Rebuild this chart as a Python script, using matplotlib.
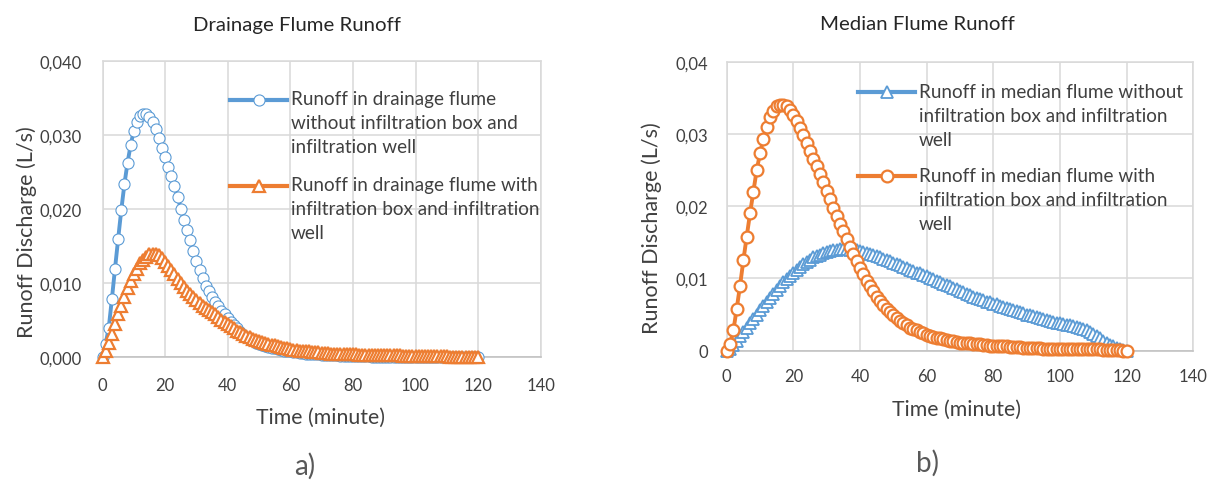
import matplotlib.pyplot as plt
from matplotlib.lines import Line2D

plt.rcParams['font.family'] = ['Lato', 'DejaVu Sans']

# time in minutes, one reading per minute
minutes = list(range(0, 121))

# a) drainage flume, runoff discharge (L/s)
drain_without = [
    0.0000, 0.0018, 0.0040, 0.0079, 0.0120, 0.0160, 0.0199, 0.0234, 0.0263, 0.0287,
    0.0306, 0.0318, 0.0326, 0.0329, 0.0329, 0.0325, 0.0318, 0.0309, 0.0296, 0.0283,
    0.0271, 0.0257, 0.0245, 0.0232, 0.0217, 0.0201, 0.0186, 0.0172, 0.0158, 0.0144,
    0.0130, 0.0118, 0.0107, 0.0097, 0.0089, 0.0082, 0.0075, 0.0069, 0.0063, 0.0058,
    0.0053, 0.0048, 0.0043, 0.0039, 0.0034, 0.0030, 0.0027, 0.0024, 0.0022, 0.0020,
    0.0018, 0.0016, 0.0015, 0.0014, 0.0013, 0.0012, 0.0011, 0.0010, 0.0009, 0.0008,
    0.0008, 0.0007, 0.0007, 0.0006, 0.0006, 0.0005, 0.0005, 0.0004, 0.0004, 0.0004,
    0.0003, 0.0003, 0.0003, 0.0003, 0.0003, 0.0003, 0.0002, 0.0002, 0.0002, 0.0002,
    0.0002, 0.0002, 0.0002, 0.0002, 0.0002, 0.0002, 0.0001, 0.0001, 0.0001, 0.0001,
    0.0001, 0.0001, 0.0001, 0.0001, 0.0001, 0.0001, 0.0001, 0.0001, 0.0001, 0.0001,
    0.0001, 0.0001, 0.0001, 0.0001, 0.0001, 0.0001, 0.0001, 0.0001, 0.0001, 0.0001,
    0.0001, 0.0000, 0.0000, 0.0000, 0.0000, 0.0000, 0.0000, 0.0000, 0.0000, 0.0000,
    0.0000,
]
drain_with = [
    0.0000, 0.0009, 0.0020, 0.0032, 0.0045, 0.0058, 0.0070, 0.0082, 0.0093, 0.0103,
    0.0112, 0.0120, 0.0127, 0.0132, 0.0136, 0.0139, 0.0140, 0.0140, 0.0138, 0.0134,
    0.0129, 0.0124, 0.0118, 0.0112, 0.0106, 0.0100, 0.0095, 0.0090, 0.0086, 0.0082,
    0.0078, 0.0074, 0.0070, 0.0067, 0.0064, 0.0061, 0.0058, 0.0055, 0.0051, 0.0048,
    0.0045, 0.0042, 0.0039, 0.0036, 0.0034, 0.0031, 0.0029, 0.0027, 0.0025, 0.0023,
    0.0022, 0.0021, 0.0019, 0.0018, 0.0017, 0.0016, 0.0015, 0.0014, 0.0013, 0.0012,
    0.0011, 0.0010, 0.0010, 0.0009, 0.0009, 0.0008, 0.0008, 0.0007, 0.0007, 0.0007,
    0.0006, 0.0006, 0.0006, 0.0005, 0.0005, 0.0005, 0.0005, 0.0004, 0.0004, 0.0004,
    0.0004, 0.0004, 0.0003, 0.0003, 0.0003, 0.0003, 0.0003, 0.0003, 0.0003, 0.0003,
    0.0003, 0.0003, 0.0003, 0.0003, 0.0003, 0.0003, 0.0002, 0.0002, 0.0002, 0.0002,
    0.0002, 0.0002, 0.0002, 0.0002, 0.0002, 0.0002, 0.0002, 0.0002, 0.0002, 0.0002,
    0.0002, 0.0001, 0.0001, 0.0001, 0.0001, 0.0001, 0.0001, 0.0001, 0.0001, 0.0001,
    0.0000,
]

# b) median flume, runoff discharge (L/s)
median_without = [
    0.0000, 0.0003, 0.0008, 0.0014, 0.0020, 0.0026, 0.0032, 0.0038, 0.0044, 0.0050,
    0.0056, 0.0062, 0.0067, 0.0073, 0.0079, 0.0084, 0.0090, 0.0095, 0.0099, 0.0104,
    0.0108, 0.0112, 0.0116, 0.0120, 0.0123, 0.0126, 0.0129, 0.0131, 0.0133, 0.0135,
    0.0137, 0.0138, 0.0139, 0.0140, 0.0141, 0.0141, 0.0141, 0.0140, 0.0140, 0.0139,
    0.0138, 0.0137, 0.0135, 0.0134, 0.0132, 0.0131, 0.0129, 0.0127, 0.0125, 0.0124,
    0.0122, 0.0120, 0.0118, 0.0116, 0.0114, 0.0112, 0.0110, 0.0108, 0.0107, 0.0105,
    0.0103, 0.0101, 0.0099, 0.0097, 0.0095, 0.0093, 0.0091, 0.0089, 0.0087, 0.0085,
    0.0083, 0.0081, 0.0079, 0.0077, 0.0075, 0.0073, 0.0071, 0.0070, 0.0068, 0.0067,
    0.0065, 0.0064, 0.0062, 0.0061, 0.0059, 0.0058, 0.0056, 0.0055, 0.0053, 0.0052,
    0.0050, 0.0049, 0.0048, 0.0046, 0.0045, 0.0044, 0.0042, 0.0041, 0.0040, 0.0039,
    0.0038, 0.0037, 0.0036, 0.0035, 0.0034, 0.0033, 0.0032, 0.0030, 0.0028, 0.0026,
    0.0023, 0.0020, 0.0017, 0.0014, 0.0011, 0.0008, 0.0006, 0.0004, 0.0002, 0.0001,
    0.0000,
]
median_with = [
    0.0000, 0.0009, 0.0028, 0.0058, 0.0090, 0.0125, 0.0158, 0.0190, 0.0220, 0.0250,
    0.0273, 0.0293, 0.0310, 0.0323, 0.0332, 0.0338, 0.0340, 0.0340, 0.0338, 0.0333,
    0.0326, 0.0318, 0.0308, 0.0298, 0.0287, 0.0277, 0.0266, 0.0256, 0.0244, 0.0233,
    0.0221, 0.0210, 0.0198, 0.0187, 0.0176, 0.0165, 0.0154, 0.0144, 0.0134, 0.0124,
    0.0115, 0.0106, 0.0097, 0.0090, 0.0082, 0.0075, 0.0069, 0.0063, 0.0058, 0.0053,
    0.0049, 0.0045, 0.0041, 0.0038, 0.0035, 0.0032, 0.0030, 0.0028, 0.0026, 0.0024,
    0.0022, 0.0020, 0.0019, 0.0018, 0.0017, 0.0016, 0.0015, 0.0014, 0.0013, 0.0012,
    0.0011, 0.0011, 0.0010, 0.0010, 0.0009, 0.0009, 0.0009, 0.0008, 0.0008, 0.0007,
    0.0007, 0.0007, 0.0006, 0.0006, 0.0006, 0.0005, 0.0005, 0.0005, 0.0005, 0.0004,
    0.0004, 0.0004, 0.0004, 0.0004, 0.0004, 0.0003, 0.0003, 0.0003, 0.0003, 0.0003,
    0.0003, 0.0003, 0.0003, 0.0003, 0.0003, 0.0002, 0.0002, 0.0002, 0.0002, 0.0002,
    0.0002, 0.0002, 0.0002, 0.0001, 0.0001, 0.0001, 0.0001, 0.0001, 0.0001, 0.0000,
    0.0000,
]

xticks = [0, 20, 40, 60, 80, 100, 120, 140]
yticks = [0, 0.01, 0.02, 0.03, 0.04]
yticklabels_a = ['0,000', '0,010', '0,020', '0,030', '0,040']
yticklabels_b = ['0', '0,01', '0,02', '0,03', '0,04']

label_a1 = 'Runoff in drainage flume\nwithout infiltration box and\ninfiltration well'
label_a2 = 'Runoff in drainage flume with\ninfiltration box and infiltration\nwell'
label_b1 = 'Runoff in median flume without\ninfiltration box and infiltration\nwell'
label_b2 = 'Runoff in median flume with\ninfiltration box and infiltration\nwell'

BLUE = '#5B9BD5'
ORANGE = '#ED7D31'
GRID = '#D9D9D9'
TXT = '#404040'

W, H = 1215, 481
fig = plt.figure(figsize=(W / 100, H / 100), dpi=100)


def axes_px(left, top, right, bottom):
    return fig.add_axes([left / W, 1 - bottom / H, (right - left) / W, (bottom - top) / H])


def fx(x):
    return x / W


def fy(y):
    return 1 - y / H


def style(ax, ylabels, ypad, xpad):
    ax.set_xlim(0, 140)
    ax.set_ylim(0, 0.04)
    ax.set_xticks(xticks)
    ax.set_yticks(yticks)
    ax.set_yticklabels(ylabels)
    ax.grid(True, color=GRID, lw=1.1)
    ax.set_axisbelow(True)
    ax.tick_params(length=0, labelsize=12, colors=TXT)
    ax.tick_params(axis='y', pad=ypad)
    ax.tick_params(axis='x', pad=xpad)
    for s in ax.spines.values():
        s.set_color(GRID)
        s.set_linewidth(1.1)
    ax.spines['bottom'].set_color('#BFBFBF')


def legend_entry(x0, x1, y, color, marker, ms, mew, text, tx):
    fig.add_artist(Line2D([fx(x0), fx(x1)], [fy(y), fy(y)], transform=fig.transFigure,
                          color=color, lw=3))
    fig.add_artist(Line2D([fx((x0 + x1) / 2)], [fy(y)], transform=fig.transFigure,
                          ls='none', marker=marker, ms=ms, mfc='white', mec=color, mew=mew))
    fig.text(fx(tx), fy(y - 9.5), text, ha='left', va='top', fontsize=13.6,
             color=TXT, linespacing=1.5)


# ---- a) drainage flume
ax1 = axes_px(102.5, 62.3, 540.7, 358.3)
style(ax1, yticklabels_a, 15, 14)
ax1.plot(minutes, drain_without, color=BLUE, lw=2.8, marker='o', ms=8,
         mfc='white', mec=BLUE, mew=0.8, clip_on=False, zorder=3)
ax1.plot(minutes, drain_with, color=ORANGE, lw=2.8, marker='^', ms=8,
         mfc='white', mec=ORANGE, mew=1.6, clip_on=False, zorder=4)

legend_entry(230, 287, 100.5, BLUE, 'o', 8, 0.8, label_a1, 291)
legend_entry(230, 287, 186.7, ORANGE, '^', 8, 1.6, label_a2, 291)

fig.text(fx(297), fy(25), 'Drainage Flume Runoff', ha='center', va='center',
         fontsize=14.7, color='#262626')
fig.text(fx(27), fy(232), 'Runoff Discharge (L/s)', rotation=90, ha='center',
         va='center', fontsize=15.5, color=TXT)
fig.text(fx(321), fy(418), 'Time (minute)', ha='center', va='center',
         fontsize=15.3, color=TXT)
fig.text(fx(305), fy(466), 'a)', ha='center', va='center', fontsize=20, color='#595959')

# ---- b) median flume
ax2 = axes_px(726.7, 62.7, 1193.3, 351.7)
style(ax2, yticklabels_b, 13.5, 12.5)
ax2.plot(minutes, median_without, color=BLUE, lw=2.8, marker='^', ms=8,
         mfc='white', mec=BLUE, mew=1.3, clip_on=False, zorder=3)
ax2.plot(minutes, median_with, color=ORANGE, lw=2.8, marker='o', ms=8.5,
         mfc='white', mec=ORANGE, mew=1.6, clip_on=False, zorder=4)

legend_entry(858, 915, 93.3, BLUE, '^', 8, 1.3, label_b1, 919)
legend_entry(858, 915, 177.3, ORANGE, 'o', 8.5, 1.6, label_b2, 919)

fig.text(fx(917), fy(25), 'Median Flume Runoff', ha='center', va='center',
         fontsize=14.7, color='#262626')
fig.text(fx(652), fy(228), 'Runoff Discharge (L/s)', rotation=90, ha='center',
         va='center', fontsize=15.5, color=TXT)
fig.text(fx(957), fy(410), 'Time (minute)', ha='center', va='center',
         fontsize=15.3, color=TXT)
fig.text(fx(927), fy(463), 'b)', ha='center', va='center', fontsize=20, color='#595959')

fig.savefig('out.png', dpi=100, facecolor='white')
